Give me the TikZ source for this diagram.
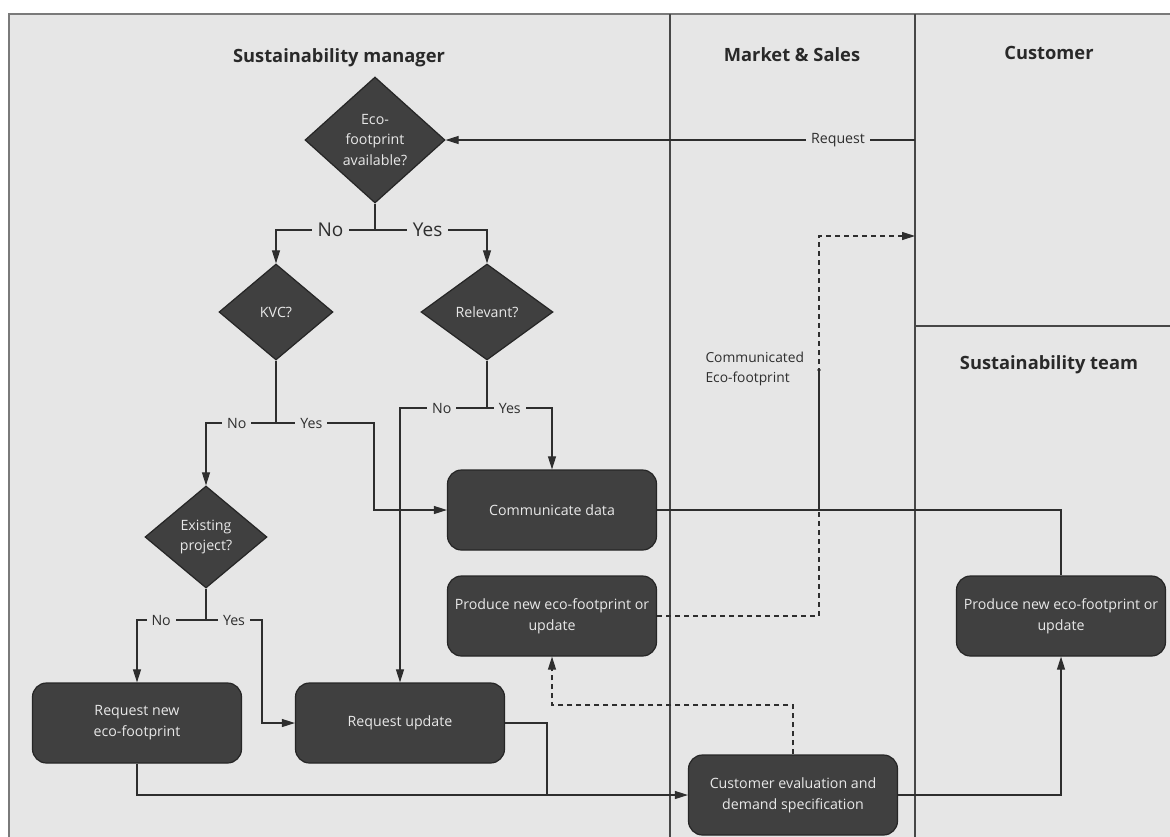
\documentclass[tikz,border=0pt]{standalone}
\usepackage{fontspec}
\setmainfont{Open Sans}
\usetikzlibrary{shapes.geometric,arrows.meta}
\definecolor{lanebg}{HTML}{E6E6E6}
\definecolor{framegray}{HTML}{7A7A7A}
\definecolor{laneline}{HTML}{474747}
\definecolor{shapefill}{HTML}{404040}
\definecolor{shapeedge}{HTML}{262626}
\definecolor{shapetext}{HTML}{E8E8E8}
\definecolor{ink}{HTML}{2E2E2E}
\begin{document}
\begin{tikzpicture}[x=1pt,y=-1pt,
  title/.style={font=\fontsize{18.3}{22}\selectfont\bfseries, text=ink!90!black},
  dia/.style={diamond, fill=shapefill, draw=shapeedge, line width=1.2pt, inner sep=0pt},
  diatext/.style={text=shapetext, align=center, font=\fontsize{14.2}{20.5}\selectfont},
  task/.style={rectangle, rounded corners=14pt, fill=shapefill, draw=shapeedge, line width=1.2pt,
    minimum width=209pt, minimum height=80pt, text=shapetext, align=center,
    font=\fontsize{14.2}{21}\selectfont},
  conn/.style={draw=ink, line width=1.1pt},
  tip/.style={-{Triangle[length=13pt,width=8pt]}},
  dashline/.style={conn, dash pattern=on 5pt off 4pt},
  lbl/.style={fill=lanebg, text=ink, inner xsep=5pt, inner ysep=1pt, font=\fontsize{14.2}{16}\selectfont},
  lblbig/.style={lbl, font=\fontsize{19}{22}\selectfont, inner xsep=6pt},
  lanesep/.style={draw=laneline, line width=1.6pt}]

\useasboundingbox (0,0) rectangle (1170,836);

% pool and lanes
\draw[fill=lanebg, draw=framegray, line width=1.6pt] (9,14) rectangle (1180,850);
\draw[lanesep] (670,14) -- (670,850);
\draw[lanesep] (915,14) -- (915,850);
\draw[lanesep] (915,326) -- (1180,326);

% lane titles
\node[title] (tsm) at (339,58) {Sustainability manager};
\node[title] (tms) at (792,55) {Market \& Sales};
\node[title] (tcu) at (1049,53) {Customer};
\node[title] (tst) at (1049,365) {Sustainability team};

% decisions
\node[dia, minimum width=140pt, minimum height=126pt,
  label={[diatext]center:Eco-\\footprint\\available?}] (avail) at (375,140) {};
\node[dia, minimum width=114pt, minimum height=96pt,
  label={[diatext]center:KVC?}] (kvc) at (276,312) {};
\node[dia, minimum width=132pt, minimum height=96pt,
  label={[diatext]center:Relevant?}] (rel) at (487,312) {};
\node[dia, minimum width=122pt, minimum height=102pt,
  label={[diatext]center:Existing\\project?}] (exist) at (206,537) {};

% tasks
\node[task] (commun) at (552,510) {Communicate data};
\node[task] (prodA) at (552,616) {Produce new eco-footprint or\\update};
\node[task] (reqnew) at (137,723) {Request new\\eco-footprint};
\node[task] (requpd) at (400,723) {Request update};
\node[task] (custev) at (793,795) {Customer evaluation and\\demand specification};
\node[task] (prodB) at (1061,616) {Produce new eco-footprint or\\update};

% junctions and free ends
\coordinate (reqsrc) at (915,140);
\coordinate (jA) at (375,230);
\coordinate (jB) at (276,423);
\coordinate (jC) at (487,408);
\coordinate (jD) at (206,620);
\coordinate (merge) at (547,795);
\coordinate (custin) at (915,236);
\coordinate (riser) at (819,236);
\coordinate (dot) at (819,370);
\coordinate (tap) at (819,510);

% request from the customer
\draw[conn, tip] (reqsrc) -- node[lbl, pos=0.164] {Request} (avail.east);

% availability split
\draw[conn] (avail.south) -- (jA);
\draw[conn, tip] (jA) -- node[lblbig, pos=0.45] {No} (kvc.north |- jA) -- (kvc.north);
\draw[conn, tip] (jA) -- node[lblbig, pos=0.47] {Yes} (rel.north |- jA) -- (rel.north);

% KVC split
\draw[conn] (kvc.south) -- (jB);
\draw[conn, tip] (jB) -- node[lbl, pos=0.56] {No} (exist.north |- jB) -- (exist.north);
\draw[conn, tip] (jB) -- node[lbl, pos=0.36] {Yes} (374,423) -- (374,510) -- (commun.west);

% relevance split
\draw[conn] (rel.south) -- (jC);
\draw[conn, tip] (jC) -- node[lbl, pos=0.52] {No} (requpd.north |- jC) -- (requpd.north);
\draw[conn, tip] (jC) -- node[lbl, pos=0.35] {Yes} (commun.north |- jC) -- (commun.north);

% existing project split
\draw[conn] (exist.south) -- (jD);
\draw[conn, tip] (jD) -- node[lbl, pos=0.65] {No} (reqnew.north |- jD) -- (reqnew.north);
\draw[conn, tip] (jD) -- node[lbl, pos=0.5] {Yes} (262,620) -- (262,723) -- (requpd.west);

% requests to market & sales
\draw[conn, tip] (reqnew.south) -- (reqnew.south |- merge) -- (custev.west);
\draw[conn] (requpd.east) -| (merge);

% customer evaluation to sustainability team
\draw[conn, tip] (custev.east) -| (prodB.south);

% data communicated onwards
\draw[conn] (commun.east) -| (prodB.north);
\draw[conn] (tap) -- (dot);
\fill[ink] (dot) circle (1.8pt);
\node[align=left, anchor=west, text=ink, font=\fontsize{13.8}{20}\selectfont] (commlbl) at (702,369) {Communicated\\Eco-footprint};

% dashed feedback paths
\draw[dashline, tip] (custev.north) -- (custev.north |- 0,705) -| (prodA.south);
\draw[dashline, tip] (prodA.east) -| (riser) -- (custin);

\end{tikzpicture}
\end{document}
